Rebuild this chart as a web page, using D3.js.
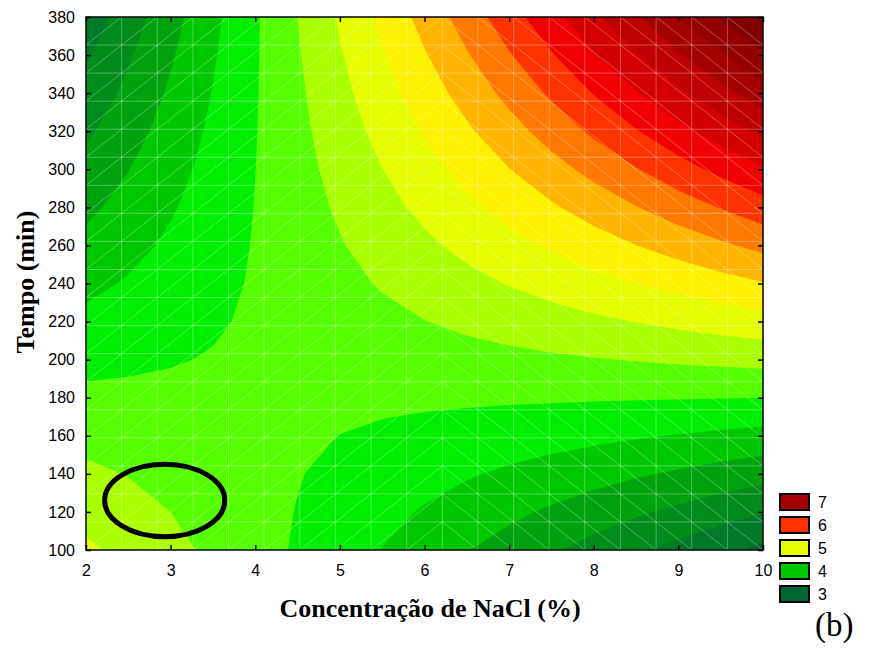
<!DOCTYPE html>
<html>
<head>
<meta charset="utf-8">
<script src="https://cdn.jsdelivr.net/npm/d3@7"></script>
<style>
  body { margin: 0; background: #fff; }
  svg { display: block; }
</style>
</head>
<body>
<svg id="chart" width="882" height="648"></svg>
<script>
// Fitted response: Tempo (rows, 100 → 380 min) × NaCl (columns, 2 → 10 %)
const nacl  = [2, 2.5, 3, 3.5, 4, 4.5, 5, 5.5, 6, 6.5, 7, 7.5, 8, 8.5, 9, 9.5, 10];
const tempo = [100, 120, 140, 160, 180, 200, 220, 240, 260, 280, 300, 320, 340, 360, 380];
const response = [
  [4.794, 4.681, 4.567, 4.453, 4.339, 4.224, 4.109, 3.993, 3.878, 3.761, 3.645, 3.527, 3.410, 3.292, 3.174, 3.055, 2.936],
  [4.671, 4.586, 4.500, 4.414, 4.328, 4.242, 4.155, 4.067, 3.980, 3.892, 3.803, 3.714, 3.625, 3.535, 3.445, 3.355, 3.264],
  [4.548, 4.491, 4.434, 4.376, 4.318, 4.260, 4.201, 4.142, 4.082, 4.022, 3.962, 3.902, 3.840, 3.779, 3.717, 3.655, 3.592],
  [4.425, 4.396, 4.367, 4.338, 4.308, 4.278, 4.248, 4.217, 4.185, 4.154, 4.121, 4.089, 4.056, 4.023, 3.989, 3.955, 3.921],
  [4.303, 4.302, 4.301, 4.300, 4.299, 4.297, 4.294, 4.292, 4.289, 4.285, 4.281, 4.277, 4.272, 4.267, 4.262, 4.256, 4.249],
  [4.181, 4.208, 4.236, 4.263, 4.289, 4.316, 4.342, 4.367, 4.392, 4.417, 4.441, 4.465, 4.488, 4.511, 4.534, 4.557, 4.578],
  [4.059, 4.115, 4.170, 4.226, 4.281, 4.335, 4.389, 4.443, 4.496, 4.549, 4.601, 4.653, 4.705, 4.756, 4.807, 4.858, 4.908],
  [3.938, 4.022, 4.105, 4.189, 4.272, 4.354, 4.437, 4.519, 4.600, 4.681, 4.762, 4.842, 4.922, 5.001, 5.080, 5.159, 5.238],
  [3.816, 3.929, 4.041, 4.152, 4.264, 4.374, 4.485, 4.595, 4.704, 4.814, 4.923, 5.031, 5.139, 5.247, 5.354, 5.461, 5.567],
  [3.696, 3.836, 3.976, 4.116, 4.256, 4.395, 4.533, 4.671, 4.809, 4.947, 5.084, 5.220, 5.357, 5.492, 5.628, 5.763, 5.898],
  [3.575, 3.744, 3.912, 4.080, 4.248, 4.415, 4.582, 4.748, 4.914, 5.080, 5.245, 5.410, 5.574, 5.738, 5.902, 6.065, 6.228],
  [3.455, 3.652, 3.848, 4.045, 4.240, 4.436, 4.631, 4.825, 5.020, 5.213, 5.407, 5.600, 5.793, 5.985, 6.177, 6.368, 6.559],
  [3.335, 3.560, 3.785, 4.009, 4.233, 4.457, 4.680, 4.903, 5.125, 5.347, 5.569, 5.790, 6.011, 6.231, 6.451, 6.671, 6.890],
  [3.216, 3.469, 3.722, 3.974, 4.226, 4.478, 4.730, 4.981, 5.231, 5.481, 5.731, 5.981, 6.230, 6.478, 6.727, 6.974, 7.222],
  [3.096, 3.378, 3.659, 3.940, 4.220, 4.500, 4.780, 5.059, 5.338, 5.616, 5.894, 6.172, 6.449, 6.726, 7.002, 7.278, 7.554]
];

// Contour levels and the fill of the band starting at each level
const levels = [2.75, 3, 3.25, 3.5, 3.75, 4, 4.25, 4.5, 4.75, 5, 5.25, 5.5, 5.75, 6, 6.25, 6.5, 6.75, 7, 7.25, 7.5];
const levelColors = ["#006633", "#007a29", "#008c1a", "#00a30d", "#00c800", "#00ee00", "#55ff00", "#aaff00",
                     "#e5ff00", "#fff200", "#ffb400", "#ff7800", "#ff3300", "#f00000", "#d40000", "#bc0000",
                     "#a50000", "#920000", "#820000", "#720000"];

const xTicks = [2, 3, 4, 5, 6, 7, 8, 9, 10];
const yTicks = [100, 120, 140, 160, 180, 200, 220, 240, 260, 280, 300, 320, 340, 360, 380];
const legendValues = [7, 6, 5, 4, 3];

// Highlighted region (centre and half-axes in data units)
const highlight = { nacl: 2.93, tempo: 126, halfNacl: 0.71, halfTempo: 19 };

const svg = d3.select("#chart");
const plotL = 86, plotR = 763, plotT = 17, plotB = 550;

const x = d3.scaleLinear().domain([2, 10]).range([plotL, plotR]);
const y = d3.scaleLinear().domain([100, 380]).range([plotB, plotT]);

// Grid coordinates of d3.contours: value (i, r) sits at (i + .5, r + .5); row 0 = highest tempo
const nx = nacl.length, ny = tempo.length;
const gx = d3.scaleLinear().domain([0.5, nx - 0.5]).range([x(nacl[0]), x(nacl[nx - 1])]);
const gy = d3.scaleLinear().domain([0.5, ny - 0.5]).range([y(tempo[ny - 1]), y(tempo[0])]);

const values = [];
for (let r = ny - 1; r >= 0; r--) values.push(...response[r]);

const bands = d3.contours().size([nx, ny]).thresholds(levels)(values);
const toScreen = d3.geoTransform({
  point(px, py) { this.stream.point(gx(px), gy(py)); }
});
const path = d3.geoPath(toScreen);

svg.append("defs").append("clipPath").attr("id", "plot-clip")
  .append("rect").attr("x", plotL).attr("y", plotT)
  .attr("width", plotR - plotL).attr("height", plotB - plotT);

const plot = svg.append("g").attr("clip-path", "url(#plot-clip)");

plot.selectAll("path.band")
  .data(bands)
  .join("path")
  .attr("class", "band")
  .attr("d", path)
  .attr("fill", (d, i) => levelColors[i]);

// Surface mesh (19 × 19 cells) drawn as faint lines
const meshCells = 19;
const meshX = d3.range(meshCells + 1).map(k => 2 + k * 8 / meshCells);
const meshY = d3.range(meshCells + 1).map(k => 100 + k * 280 / meshCells);
const mesh = plot.append("g")
  .attr("stroke", "#ffffff")
  .attr("stroke-opacity", 0.3)
  .attr("stroke-width", 1)
  .attr("fill", "none");

mesh.selectAll("line.v").data(meshX).join("line").attr("class", "v")
  .attr("x1", d => x(d)).attr("x2", d => x(d)).attr("y1", plotT).attr("y2", plotB);
mesh.selectAll("line.h").data(meshY).join("line").attr("class", "h")
  .attr("x1", plotL).attr("x2", plotR).attr("y1", d => y(d)).attr("y2", d => y(d));

const cells = [];
for (let i = 0; i < meshCells; i++) {
  for (let j = 0; j < meshCells; j++) cells.push({ i, j });
}
mesh.selectAll("line.d").data(cells).join("line").attr("class", "d")
  .attr("x1", d => x(meshX[d.i]))
  .attr("x2", d => x(meshX[d.i + 1]))
  .attr("y1", d => d.i < 10 ? y(meshY[d.j]) : y(meshY[d.j + 1]))
  .attr("y2", d => d.i < 10 ? y(meshY[d.j + 1]) : y(meshY[d.j]));

// Highlight ellipse
plot.append("ellipse")
  .attr("cx", x(highlight.nacl))
  .attr("cy", y(highlight.tempo))
  .attr("rx", x(highlight.nacl + highlight.halfNacl) - x(highlight.nacl))
  .attr("ry", y(highlight.tempo) - y(highlight.tempo + highlight.halfTempo))
  .attr("fill", "none")
  .attr("stroke", "#000")
  .attr("stroke-width", 5);

// Axes with inward ticks on all four sides
const tickFont = "'Liberation Sans', Arial, sans-serif";
function styleAxis(g) {
  g.select(".domain").remove();
  g.selectAll(".tick line").attr("stroke", "#000").attr("stroke-width", 1.5);
  g.selectAll(".tick text").attr("fill", "#000").style("font-family", tickFont).style("font-size", "16px");
}

svg.append("g").attr("transform", `translate(0,${plotB})`)
  .call(d3.axisBottom(x).tickValues(xTicks).tickSize(-5).tickPadding(15).tickFormat(d3.format("d")))
  .call(styleAxis);
svg.append("g").attr("transform", `translate(${plotL},0)`)
  .call(d3.axisLeft(y).tickValues(yTicks).tickSize(-5).tickPadding(11).tickFormat(d3.format("d")))
  .call(styleAxis);
svg.append("g").attr("transform", `translate(0,${plotT})`)
  .call(d3.axisTop(x).tickValues(xTicks).tickSize(-5).tickFormat(""))
  .call(styleAxis);
svg.append("g").attr("transform", `translate(${plotR},0)`)
  .call(d3.axisRight(y).tickValues(yTicks).tickSize(-5).tickFormat(""))
  .call(styleAxis);

svg.append("rect")
  .attr("x", plotL).attr("y", plotT)
  .attr("width", plotR - plotL).attr("height", plotB - plotT)
  .attr("fill", "none").attr("stroke", "#000").attr("stroke-width", 1.5);

// Axis titles
const titleFont = "'Liberation Serif', 'Times New Roman', serif";
svg.append("text")
  .attr("x", 430).attr("y", 617)
  .attr("text-anchor", "middle")
  .style("font-family", titleFont).style("font-weight", "bold").style("font-size", "26px")
  .text("Concentração de NaCl (%)");

svg.append("text")
  .attr("transform", "translate(34,282) rotate(-90)")
  .attr("text-anchor", "middle")
  .style("font-family", titleFont).style("font-weight", "bold").style("font-size", "26px")
  .text("Tempo (min)");

svg.append("text")
  .attr("x", 815).attr("y", 636)
  .style("font-family", titleFont).style("font-size", "33px")
  .text("(b)");

// Legend
const legend = svg.append("g").attr("transform", "translate(780,494)");
const legendRows = legend.selectAll("g").data(legendValues).join("g")
  .attr("transform", (d, i) => `translate(0,${i * 23})`);
legendRows.append("rect")
  .attr("width", 29).attr("height", 16)
  .attr("fill", d => levelColors[levels.indexOf(d - 0.25)])
  .attr("stroke", "#000").attr("stroke-width", 2);
legendRows.append("text")
  .attr("x", 38).attr("y", 8).attr("dy", "0.35em")
  .style("font-family", tickFont).style("font-size", "16px")
  .text(d => d);
</script>
</body>
</html>
